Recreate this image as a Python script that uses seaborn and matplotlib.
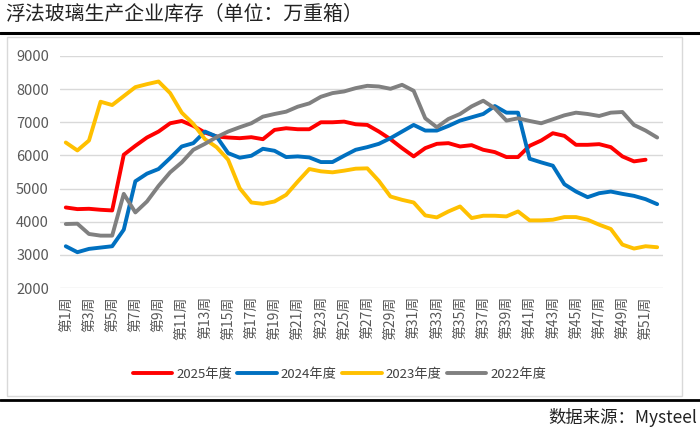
import matplotlib
matplotlib.use('Agg')
import matplotlib.pyplot as plt
from matplotlib.lines import Line2D
from matplotlib.patches import Rectangle
import seaborn as sns
import pandas as pd
import numpy as np

# weekly inventory, 10k weight boxes
weeks = list(range(1, 53))
inv2025 = [4430, 4380, 4390, 4360, 4340, 6020, 6290, 6540, 6720, 6970, 7040, 6890, 6690,
           6570, 6540, 6520, 6550, 6490, 6770, 6820, 6790, 6790, 7000, 7000, 7020, 6940,
           6920, 6720, 6490, 6220, 5970, 6220, 6350, 6370, 6270, 6310, 6170, 6100, 5950,
           5950, 6290, 6450, 6670, 6590, 6320, 6320, 6340, 6250, 5970, 5820, 5870]
inv2024 = [3260, 3080, 3180, 3220, 3260, 3760, 5220, 5450, 5590, 5920, 6270, 6370, 6720,
           6570, 6070, 5930, 5990, 6200, 6140, 5950, 5970, 5940, 5800, 5800, 5990, 6170,
           6250, 6350, 6520, 6720, 6920, 6750, 6750, 6890, 7050, 7150, 7250, 7490, 7290,
           7290, 5900, 5790, 5690, 5130, 4910, 4740, 4860, 4910, 4840, 4780, 4680, 4530]
inv2023 = [6390, 6150, 6450, 7620, 7520, 7790, 8060, 8150, 8230, 7880, 7290, 6950, 6490,
           6250, 5870, 5010, 4580, 4540, 4610, 4810, 5210, 5590, 5520, 5490, 5540, 5600,
           5610, 5230, 4760, 4660, 4580, 4190, 4130, 4310, 4460, 4110, 4180, 4180, 4160,
           4310, 4040, 4040, 4060, 4140, 4140, 4060, 3910, 3780, 3310, 3190, 3260, 3230]
inv2022 = [3930, 3940, 3630, 3580, 3580, 4840, 4280, 4610, 5080, 5490, 5790, 6170, 6350,
           6550, 6720, 6850, 6970, 7170, 7250, 7320, 7470, 7570, 7770, 7880, 7930, 8030,
           8100, 8080, 8010, 8130, 7950, 7120, 6850, 7100, 7250, 7480, 7650, 7420, 7050,
           7120, 7040, 6970, 7090, 7210, 7290, 7250, 7190, 7290, 7310, 6920, 6750, 6540]
years = ['2025年度', '2024年度', '2023年度', '2022年度']
colors = ['#FF0000', '#0070C0', '#FFC000', '#808080']

frames = []
for name, vals in zip(years, [inv2025, inv2024, inv2023, inv2022]):
    frames.append(pd.DataFrame({'week': weeks[:len(vals)], 'value': vals, 'year': name}))
df = pd.concat(frames, ignore_index=True)

sns.set_theme(style='white')
plt.rcParams['font.family'] = ['Noto Sans CJK SC', 'DejaVu Sans']

fig = plt.figure(figsize=(7, 4.34), dpi=100)
ax = fig.add_axes([0.0857, 0.3364, 0.8614, 0.5346])

sns.lineplot(data=df, x='week', y='value', hue='year', hue_order=years,
             palette=colors, linewidth=2.8, ax=ax)

ax.set_xlim(0.5, 52.5)
ax.set_ylim(2000, 9000)
ax.set_yticks(range(2000, 9001, 1000))
ax.set_xticks(weeks[::2])
ax.set_xticklabels(['第%d周' % w for w in weeks[::2]], rotation=90, fontsize=10, color='#595959')
ax.tick_params(axis='y', labelsize=10.5, labelcolor='#595959', length=0, pad=8)
ax.tick_params(axis='x', length=0, pad=6)
ax.grid(axis='y', color='#D9D9D9', linewidth=1)
ax.set_axisbelow(True)
for s in ax.spines.values():
    s.set_visible(False)
ax.set_xlabel('')
ax.set_ylabel('')

ax.legend(loc='center', bbox_to_anchor=(0.485, 0.138), bbox_transform=fig.transFigure,
          ncol=4, frameon=False, fontsize=9.5, handlelength=3.0, handletextpad=0.3,
          columnspacing=0.4, labelcolor='#404040')

# title, frame and rules
fig.text(0.008, 0.968, '浮法玻璃生产企业库存（单位：万重箱）', fontsize=14.3, va='center',
         color='#222222')
fig.add_artist(Line2D([0, 1], [0.924, 0.924], color='black', linewidth=2.2))
fig.add_artist(Rectangle((0.01, 0.0876), 0.964, 0.827, fill=False,
                         edgecolor='#D9D9D9', linewidth=1))
fig.add_artist(Line2D([0, 1], [0.0783, 0.0783], color='black', linewidth=2))
fig.text(0.996, 0.037, '数据来源：Mysteel', fontsize=12.5, ha='right', va='center',
         color='#222222')

fig.savefig('out.png', dpi=100)
